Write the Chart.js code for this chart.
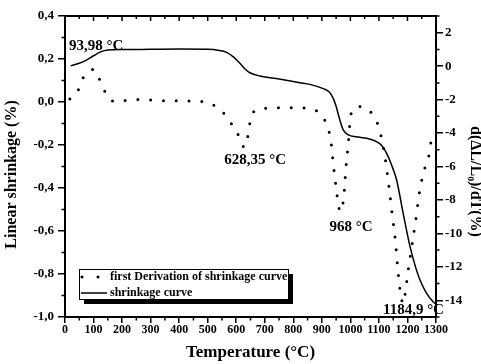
<!DOCTYPE html>
<html><head><meta charset="utf-8">
<script src="https://cdn.jsdelivr.net/npm/chart.js@4.4.1/dist/chart.umd.min.js"></script>
<style>html,body{margin:0;padding:0;background:#fff}canvas{display:block}</style>
</head><body>
<canvas id="c" width="481" height="364"></canvas>
<script>
// ---- data ----
const shrinkTemps  = [20, 50, 75, 100, 125, 150, 200, 300, 400, 500, 540, 566, 590, 613, 630, 648, 683, 750, 823, 858, 905, 925, 940, 950, 963, 975, 993, 1020, 1057, 1085, 1104, 1115, 1127, 1145, 1162, 1185, 1209, 1230, 1244, 1265, 1290, 1300];
const shrinkValues = [0.168, 0.180, 0.195, 0.215, 0.233, 0.242, 0.244, 0.245, 0.246, 0.245, 0.240, 0.231, 0.210, 0.180, 0.155, 0.136, 0.121, 0.107, 0.090, 0.082, 0.062, 0.048, 0.017, -0.020, -0.084, -0.130, -0.153, -0.162, -0.169, -0.180, -0.195, -0.212, -0.239, -0.295, -0.363, -0.518, -0.673, -0.775, -0.828, -0.885, -0.929, -0.940];

const derivTemps  = [17, 47, 66, 85, 100, 112, 127, 150, 183, 228, 260, 304, 350, 397, 442, 487, 528, 563, 589, 613, 628, 643, 650, 676, 720, 767, 814, 858, 896, 919, 931, 941, 952, 958, 967, 973, 977, 984, 993, 1001, 1015, 1028, 1065, 1092, 1107, 1124, 1136, 1147, 1158, 1166, 1175, 1184.9, 1192, 1201, 1215, 1229, 1242, 1251, 1263, 1277, 1284];
const derivValues = [-1.97, -1.41, -0.61, -0.30, -0.20, -0.50, -1.01, -1.85, -2.13, -2.01, -2.00, -2.03, -2.07, -2.07, -2.08, -2.13, -2.41, -2.95, -3.60, -4.30, -4.85, -4.00, -3.17, -2.60, -2.50, -2.49, -2.49, -2.56, -2.87, -3.60, -4.40, -6.00, -7.53, -8.33, -8.70, -8.30, -7.79, -6.15, -4.56, -2.97, -2.50, -2.41, -2.65, -3.30, -4.14, -5.74, -7.33, -8.93, -10.5, -12.1, -13.5, -14.2, -13.6, -12.4, -10.8, -9.2, -7.55, -6.75, -5.96, -5.2, -4.3];

const xTickValues      = [0, 100, 200, 300, 400, 500, 600, 700, 800, 900, 1000, 1100, 1200, 1300];
const xTickLabels      = ['0','100','200','300','400','500','600','700','800','900','1000','1100','1200','1300'];
const leftTickValues   = [-1.0, -0.8, -0.6, -0.4, -0.2, 0.0, 0.2, 0.4];
const leftTickLabels   = ['-1,0','-0,8','-0,6','-0,4','-0,2','0,0','0,2','0,4'];
const rightTickValues  = [-14, -12, -10, -8, -6, -4, -2, 0, 2];
const rightTickLabels  = ['-14','-12','-10','-8','-6','-4','-2','0','2'];

const legendLabels = ['first Derivation of shrinkage curve', 'shrinkage curve'];

const annotationTexts  = ['93,98 °C', '628,35 °C', '968 °C', '1184,9 °C'];
const annotationTemps  = [14, 666, 1002, 1221];
const annotationValues = [0.26, -5.6, -9.6, -14.6];
const annotationAxis   = ['y', 'y1', 'y1', 'y1'];
const annotationAlign  = ['left', 'center', 'center', 'center'];

const FONT = "'Liberation Serif', 'Times New Roman', serif";

const shrinkData = shrinkTemps.map((t, i) => ({x: t, y: shrinkValues[i]}));
const derivData  = derivTemps.map((t, i) => ({x: t, y: derivValues[i]}));

const decor = {
  id: 'decor',
  afterDraw(chart) {
    const {ctx, chartArea: a} = chart;
    const x = chart.scales.x, y = chart.scales.y, y1 = chart.scales.y1;
    ctx.save();
    ctx.strokeStyle = '#000';
    ctx.fillStyle = '#000';
    // top frame line
    ctx.lineWidth = 2;
    ctx.beginPath(); ctx.moveTo(a.left - 1, a.top); ctx.lineTo(a.right + 1, a.top); ctx.stroke();
    // tick marks (minor + top)
    ctx.lineWidth = 1.5;
    ctx.beginPath();
    for (let i = 0; i <= 26; i++) {
      const px = x.getPixelForValue(i * 50);
      const major = i % 2 === 0;
      ctx.moveTo(px, a.top); ctx.lineTo(px, a.top + (major ? 5 : 3));
      if (!major) { ctx.moveTo(px, a.bottom); ctx.lineTo(px, a.bottom + 3.5); }
    }
    for (let i = -9; i <= 3; i += 2) {
      const py = y.getPixelForValue(i / 10);
      ctx.moveTo(a.left, py); ctx.lineTo(a.left - 3.5, py);
    }
    for (let v = -15; v <= 3; v += 2) {
      const py = y1.getPixelForValue(v);
      ctx.moveTo(a.right, py); ctx.lineTo(a.right + 3.5, py);
    }
    ctx.stroke();

    // legend box
    const lx = a.left + 14, ly = a.bottom - 48, lw = 209, lh = 30;
    ctx.fillRect(lx + 5, ly + 5, lw, lh);
    ctx.fillStyle = '#fff';
    ctx.fillRect(lx, ly, lw, lh);
    ctx.lineWidth = 1;
    ctx.strokeRect(lx + 0.5, ly + 0.5, lw, lh);
    ctx.fillStyle = '#000';
    const r1 = ly + 8, r2 = ly + 24;
    [lx + 3, lx + 19].forEach(dx => { ctx.beginPath(); ctx.arc(dx, r1, 1.5, 0, Math.PI * 2); ctx.fill(); });
    ctx.lineWidth = 1.5;
    ctx.beginPath(); ctx.moveTo(lx + 2, r2); ctx.lineTo(lx + 28, r2); ctx.stroke();
    ctx.font = 'bold 12px ' + FONT;
    ctx.textAlign = 'left'; ctx.textBaseline = 'middle';
    ctx.fillText(legendLabels[0], lx + 31, r1);
    ctx.fillText(legendLabels[1], lx + 31, r2);

    // annotations
    ctx.font = 'bold 15px ' + FONT;
    annotationTexts.forEach((txt, i) => {
      const sc = chart.scales[annotationAxis[i]];
      ctx.textAlign = annotationAlign[i];
      ctx.fillText(txt, x.getPixelForValue(annotationTemps[i]), sc.getPixelForValue(annotationValues[i]));
    });

    // y axis titles
    ctx.font = 'bold 16px ' + FONT;
    ctx.textAlign = 'center';
    ctx.save();
    ctx.translate(12, (a.top + a.bottom) / 2 + 8);
    ctx.rotate(-Math.PI / 2);
    ctx.fillText('Linear shrinkage (%)', 0, 0);
    ctx.restore();
    ctx.save();
    ctx.translate(chart.width - 6, (a.top + a.bottom) / 2 + 15);
    ctx.rotate(Math.PI / 2);
    ctx.fillText('d(ΔL/L\u2080)/dT(%)', 0, 0);
    ctx.restore();
    ctx.restore();
  }
};

const gridCommon = {display: true, drawOnChartArea: false, color: '#000', lineWidth: 1.5};
const borderCommon = {display: true, color: '#000', width: 2};
const labelFrom = (vals, labels) => (v) => {
  const i = vals.findIndex(t => Math.abs(t - v) < 1e-6);
  return i >= 0 ? labels[i] : '';
};

new Chart(document.getElementById('c'), {
  type: 'line',
  data: {
    datasets: [
      {
        label: legendLabels[0], data: derivData, yAxisID: 'y1',
        borderColor: '#000', borderWidth: 3, borderDash: [0, 12.8], borderCapStyle: 'round',
        pointRadius: 0, cubicInterpolationMode: 'monotone', fill: false
      },
      {
        label: legendLabels[1], data: shrinkData, yAxisID: 'y',
        borderColor: '#000', borderWidth: 1.5,
        pointRadius: 0, cubicInterpolationMode: 'monotone', fill: false
      }
    ]
  },
  options: {
    responsive: false,
    animation: false,
    devicePixelRatio: 1,
    layout: {padding: {top: 16, left: 0, right: 0, bottom: 0}},
    plugins: {legend: {display: false}, tooltip: {enabled: false}},
    scales: {
      x: {
        type: 'linear', min: 0, max: 1300,
        ticks: {color: '#000', padding: 0, font: {family: FONT, size: 12, weight: 'bold'},
                autoSkip: false, maxRotation: 0, callback: labelFrom(xTickValues, xTickLabels)},
        afterBuildTicks: (s) => { s.ticks = xTickValues.map(v => ({value: v})); },
        grid: Object.assign({tickLength: 6}, gridCommon),
        border: borderCommon,
        title: {display: true, text: 'Temperature (°C)', color: '#000',
                font: {family: FONT, size: 17, weight: 'bold'}, padding: {top: 0, bottom: 1}},
        afterFit: (s) => { s.height = 47; }
      },
      y: {
        type: 'linear', position: 'left', min: -1.0, max: 0.4,
        ticks: {color: '#000', padding: 4, font: {family: FONT, size: 13, weight: 'bold'},
                autoSkip: false, callback: labelFrom(leftTickValues, leftTickLabels)},
        afterBuildTicks: (s) => { s.ticks = leftTickValues.map(v => ({value: v})); },
        grid: Object.assign({tickLength: 7}, gridCommon),
        border: borderCommon,
        afterFit: (s) => { s.width = 65; }
      },
      y1: {
        type: 'linear', position: 'right', min: -15, max: 3,
        ticks: {color: '#000', padding: 2, font: {family: FONT, size: 13, weight: 'bold'},
                autoSkip: false, callback: labelFrom(rightTickValues, rightTickLabels)},
        afterBuildTicks: (s) => { s.ticks = rightTickValues.map(v => ({value: v})); },
        grid: Object.assign({tickLength: 7}, gridCommon),
        border: borderCommon,
        afterFit: (s) => { s.width = 45; }
      }
    }
  },
  plugins: [decor]
});
</script>
</body></html>
